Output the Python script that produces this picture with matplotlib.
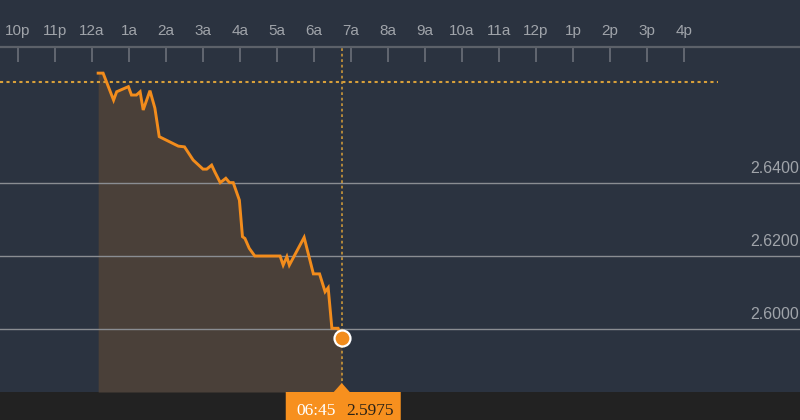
"""Intraday yield chart: 10p to 4p session, last print 06:45."""

import matplotlib
matplotlib.use("Agg")
import matplotlib.pyplot as plt
from matplotlib.patches import Polygon, Rectangle
from matplotlib.transforms import IdentityTransform

# Session hours relative to midnight (10p previous day = -2)
tick_hours = list(range(-2, 17))
tick_labels = ["10p", "11p", "12a", "1a", "2a", "3a", "4a", "5a", "6a", "7a",
               "8a", "9a", "10a", "11a", "12p", "1p", "2p", "3p", "4p"]

# Price path: minutes after midnight and value
minutes = [10, 18, 35, 40, 59, 64, 72, 78, 83, 94, 102, 109, 140, 150, 164,
           180, 186, 194, 199, 208, 217, 223, 229, 239, 244, 248, 255, 264,
           305, 310, 316, 320, 344, 359, 369, 378, 383, 389, 399, 405]
values = [2.6701, 2.6701, 2.6627, 2.6650, 2.6664, 2.6641, 2.6641, 2.6650,
          2.6600, 2.6653, 2.6605, 2.6527, 2.6501, 2.6499, 2.6463, 2.6438,
          2.6438, 2.6449, 2.6431, 2.6401, 2.6413, 2.6401, 2.6401, 2.6353,
          2.6253, 2.6248, 2.6221, 2.6200, 2.6200, 2.6175, 2.6198, 2.6175,
          2.6251, 2.6151, 2.6151, 2.6102, 2.6113, 2.6002, 2.6002, 2.5975]

prev_close = 2.6677
session_end = 16 + 55 / 60
grid_levels = [2.60, 2.62, 2.64]

BG = "#2b3340"
BAND = "#222222"
ORANGE = "#f28c1c"
FILL = "#4a4039"
DOT = "#d8a03a"
GRID = "#8a8d92"
TEXT = "#a0a4aa"

plt.rcParams["font.family"] = ["Liberation Sans", "DejaVu Sans"]

W, H = 800, 420
fig = plt.figure(figsize=(W / 100, H / 100), dpi=100, facecolor=BG)

# axes spans from the top axis line (47px) down to the dark band (392px)
ax = fig.add_axes([0, 28 / H, 1, 345 / H], facecolor=BG)
hours = [m / 60 for m in minutes]

px_per_hour = 37
x0 = 92  # pixel of midnight
ax.set_xlim(-x0 / px_per_hour, (W - x0) / px_per_hour)
k = 0.02 / 73
ax.set_ylim(2.60 - 63 * k, 2.60 + 282 * k)
y_floor = ax.get_ylim()[0]

for sp in ["left", "right", "bottom"]:
    ax.spines[sp].set_visible(False)
ax.spines["top"].set_color("#5c6169")
ax.spines["top"].set_linewidth(1.6)

ax.set_yticks([])
ax.set_xticks(tick_hours)
ax.tick_params(axis="x", top=True, bottom=False, labeltop=False,
               labelbottom=False, direction="in", length=10.8, width=1.2,
               color="#6b7079")
for h, lab in zip(tick_hours, tick_labels):
    ax.annotate(lab, xy=(h, 1), xycoords=("data", "axes fraction"),
                xytext=(0, 8.6), textcoords="offset points", ha="center",
                va="baseline", color=TEXT, fontsize=11, annotation_clip=False)

ax.fill_between(hours, values, y_floor, color=FILL, lw=0, zorder=1)

for lvl in grid_levels:
    ax.axhline(lvl, color=GRID, lw=1.0, zorder=2)
    ax.annotate(f"{lvl:.4f}", xy=(1, lvl), xycoords=("axes fraction", "data"),
                xytext=(-0.5, 7.5), textcoords="offset points", ha="right",
                va="baseline", color=TEXT, fontsize=11.5)

ax.hlines(prev_close, ax.get_xlim()[0], session_end, colors=DOT, lw=1.5,
          linestyles=(0, (1.5, 1.6)), zorder=3)
ax.axvline(hours[-1], color=DOT, lw=1.1, linestyle=(0, (1.8, 1.8)), zorder=3)

ax.plot(hours, values, color=ORANGE, lw=2.1, zorder=4, solid_joinstyle="miter")
ax.plot(hours[-1], values[-1], "o", ms=11.5, mfc=ORANGE, mec="white",
        mew=1.6, zorder=5)

# bottom band and tooltip
fig.add_artist(Rectangle((0, 0), 1, 28 / H, transform=fig.transFigure,
                         color=BAND, lw=0, zorder=0))
cx = ax.transData.transform((hours[-1], values[-1]))[0]
tip = [(cx - 56, 0), (cx + 59, 0), (cx + 59, 28), (cx + 8, 28), (cx, 37),
       (cx - 8, 28), (cx - 56, 28)]
fig.add_artist(Polygon(tip, closed=True, transform=IdentityTransform(),
                       facecolor="#f7901e", lw=0, zorder=6))
last_m = minutes[-1]
fig.text(cx - 45, 5, f"{last_m // 60:02d}:{last_m % 60:02d}",
         transform=IdentityTransform(), color="white", fontsize=12.5,
         family="Liberation Serif", va="baseline", ha="left", zorder=7)
fig.text(cx + 5, 5, f"{values[-1]:.4f}", transform=IdentityTransform(),
         color="#2a2217", fontsize=12.5, family="Liberation Serif",
         va="baseline", ha="left", zorder=7)

fig.savefig("out.png", dpi=100, facecolor=BG)
